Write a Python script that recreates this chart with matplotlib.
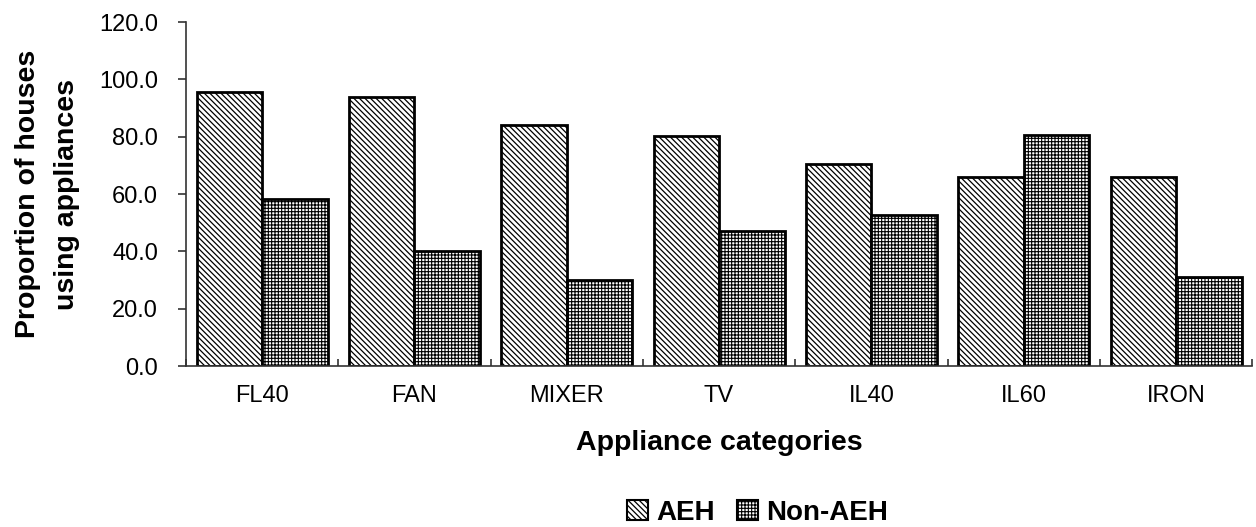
import numpy as np
import matplotlib.pyplot as plt
from matplotlib.ticker import MultipleLocator, FixedLocator

plt.rcParams['font.family'] = ['Liberation Sans', 'DejaVu Sans']

categories = ['FL40', 'FAN', 'MIXER', 'TV', 'IL40', 'IL60', 'IRON']
aeh = [95.6, 93.8, 84.1, 80.2, 70.5, 65.9, 65.8]
non_aeh = [58.3, 40.1, 30.0, 47.0, 52.6, 80.6, 31.1]

fig = plt.figure(figsize=(12.56, 5.27), dpi=100)
ax = fig.add_axes([0.148, 0.3055, 0.849, 0.6525])

x = np.arange(len(categories))
w = 0.43
bars_a = ax.bar(x - w/2, aeh, w, color='white', edgecolor='black', linewidth=2,
                hatch='\\\\\\\\\\\\', label='AEH')
bars_b = ax.bar(x + w/2, non_aeh, w, color='white', edgecolor='black', linewidth=2,
                hatch='+++++', label='Non-AEH')
# thinner grid lines so the checker pattern stays mid grey
for p in bars_a:
    p.set_hatch_linewidth(0.9)
for p in bars_b:
    p.set_hatch_linewidth(0.8)

ax.set_xlim(-0.5, len(categories) - 0.5)
ax.set_ylim(0, 120)
ax.yaxis.set_major_locator(MultipleLocator(20))
ax.set_yticklabels([f'{v:.1f}' for v in ax.get_yticks()])
ax.set_xticks(x)
ax.set_xticklabels(categories)
ax.xaxis.set_minor_locator(FixedLocator(np.arange(len(categories) + 1) - 0.5))

for s in ['top', 'right']:
    ax.spines[s].set_visible(False)
for s in ['left', 'bottom']:
    ax.spines[s].set_color('#333333')
    ax.spines[s].set_linewidth(1.2)

ax.tick_params(axis='y', direction='out', length=6, width=1.2, color='#333333',
               labelsize=17, pad=14)
ax.tick_params(axis='x', which='major', length=0, labelsize=17, pad=14)
ax.tick_params(axis='x', which='minor', direction='in', length=5, width=1.2,
               color='#333333')

ax.set_ylabel('Proportion of houses\nusing appliances', fontsize=20.5,
              fontweight='bold', labelpad=14, linespacing=1.65)
ax.set_xlabel('Appliance categories', fontsize=20.5, fontweight='bold',
              labelpad=16)

leg = fig.legend(loc='center', bbox_to_anchor=(0.603, 0.027), ncol=2, frameon=False,
                 prop={'size': 20, 'weight': 'bold'}, handlelength=0.75,
                 handleheight=0.75, handletextpad=0.3, columnspacing=0.8,
                 borderaxespad=0)
for h, lw in zip(leg.legend_handles, [0.9, 0.8]):
    h.set_hatch_linewidth(lw)
    h.set_linewidth(1.5)

fig.savefig('out.png', dpi=100)
